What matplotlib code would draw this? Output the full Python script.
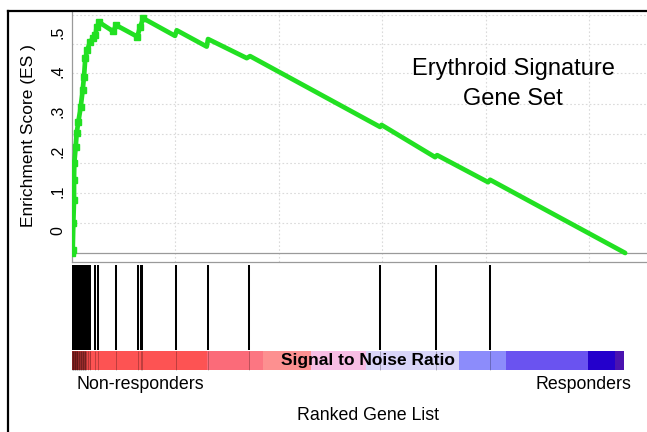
import numpy as np
import matplotlib
matplotlib.use("Agg")
import matplotlib.pyplot as plt
from matplotlib.lines import Line2D

plt.rcParams['font.family'] = ['Liberation Sans', 'DejaVu Sans']

# running enrichment score (rank in gene list, ES)
rank = [0, 34, 63, 97, 97, 111, 179, 227, 305, 421, 517, 580, 643, 740, 870,
        1030, 1127, 1195, 1320, 1997, 2128, 3158, 3288, 3448, 4981, 5063,
        6514, 6577, 8449, 8609, 14895, 14968, 17555, 17652, 20118, 20215, 26743]
es = [-0.056, -0.049, 0.019, 0.077, 0.128, 0.170, 0.211, 0.246, 0.273, 0.311,
      0.354, 0.387, 0.434, 0.454, 0.475, 0.485, 0.492, 0.512, 0.524, 0.501,
      0.517, 0.488, 0.512, 0.534, 0.490, 0.504, 0.463, 0.482, 0.434, 0.439,
      0.261, 0.266, 0.185, 0.190, 0.122, 0.128, -0.056]

# gene set members in the ranked list
hits = [0, 30, 60, 95, 125, 160, 190, 225, 255, 290, 320, 350, 385, 415, 450,
        480, 515, 545, 580, 610, 640, 670, 774, 870, 1112, 1257, 2128, 3167,
        3313, 3385, 5029, 6577, 8560, 14895, 17603, 20215]

# ranked metric colour bar
bar_edges = [0, 300, 677, 919, 6529, 8608, 9237, 11558, 14218, 18715, 20988,
             24954, 26260, 26695]
bar_colors = ['#a92a2a', '#c83838', '#e84646', '#fd5353', '#fb6b79', '#fc7682',
              '#fd9090', '#f7bde4', '#d9d5f8', '#8c8cfb', '#6a53f0', '#2400cc',
              '#4a12b0']

es_ticks = [0, 0.1, 0.2, 0.3, 0.4, 0.5]
es_ticklabels = ['0', '.1', '.2', '.3', '.4', '.5']
es_grid = [0.019, 0.095, 0.170, 0.244, 0.319, 0.397, 0.470, 0.543]
es_base = -0.056
rank_grid = [5000, 10000, 15000, 20000, 25000]

W, H = 647, 432
fig = plt.figure(figsize=(W / 100, H / 100), dpi=100)

def fx(px):
    return px / W

def fy(py):
    return 1 - py / H

# upper panel: ES curve
ax = fig.add_axes([fx(72), fy(262), 1 - fx(72), fy(12) - fy(262)])
ax.set_xlim(0, 27800)
ax.set_ylim(-0.0787, 0.550)
for g in es_grid:
    ax.axhline(g, color='#dadada', lw=0.8, ls=(0, (1.5, 2)), zorder=0)
for g in rank_grid:
    ax.axvline(g, color='#dadada', lw=0.8, ls=(0, (1.5, 2)), zorder=0)
ax.axhline(es_base, color='#9a9a9a', lw=0.9, zorder=1)
ax.plot(rank, es, color='#22e022', lw=3.4, marker='s', ms=3.8,
        markevery=list(range(24)), solid_capstyle='round',
        solid_joinstyle='round', zorder=3)
ax.set_xticks([])
ax.set_yticks(es_ticks)
ax.set_yticklabels(es_ticklabels, rotation=90, va='center', fontsize=11.5)
ax.tick_params(axis='y', length=0, pad=5)
for s in ['top', 'right']:
    ax.spines[s].set_visible(False)
for s in ['left', 'bottom']:
    ax.spines[s].set_color('#9a9a9a')
    ax.spines[s].set_linewidth(0.9)

# lower panel: hits and ranked list colour bar
ax2 = fig.add_axes([fx(72), fy(371), 1 - fx(72), fy(263) - fy(371)])
ax2.set_xlim(0, 27800)
ax2.set_ylim(0, 1)
ax2.axis('off')
widths = np.diff(bar_edges)
ax2.bar(bar_edges[:-1], [0.176] * len(widths), width=widths, bottom=0.009,
        align='edge', color=bar_colors, lw=0)
ax2.vlines(hits, 0.194, 0.981, color='black', lw=1.45)
ax2.vlines(hits, 0.009, 0.185, color='black', lw=0.7, alpha=0.25)
ax2.text(14315, 0.097, 'Signal to Noise Ratio', ha='center', va='center',
         fontsize=12.5, fontweight='bold')

# texts
fig.text(fx(513), fy(75), 'Erythroid Signature', ha='center', va='baseline',
         fontsize=17)
fig.text(fx(513), fy(105), 'Gene Set', ha='center', va='baseline', fontsize=17)
fig.text(fx(29), fy(136), 'Enrichment Score (ES )', rotation=90,
         ha='center', va='center', fontsize=12.5)
fig.text(fx(77), fy(389), 'Non-responders', ha='left', va='baseline',
         fontsize=12.8)
fig.text(fx(631), fy(389), 'Responders', ha='right', va='baseline',
         fontsize=12.8)
fig.text(fx(368), fy(420), 'Ranked Gene List', ha='center', va='baseline',
         fontsize=12.8)

# outer frame
fig.add_artist(Line2D([fx(8.3), fx(8.3)], [0, fy(11)], color='black', lw=1.6))
fig.add_artist(Line2D([fx(8.3), 1], [fy(11), fy(11)], color='black', lw=1.6))

fig.savefig('out.png', dpi=100)
